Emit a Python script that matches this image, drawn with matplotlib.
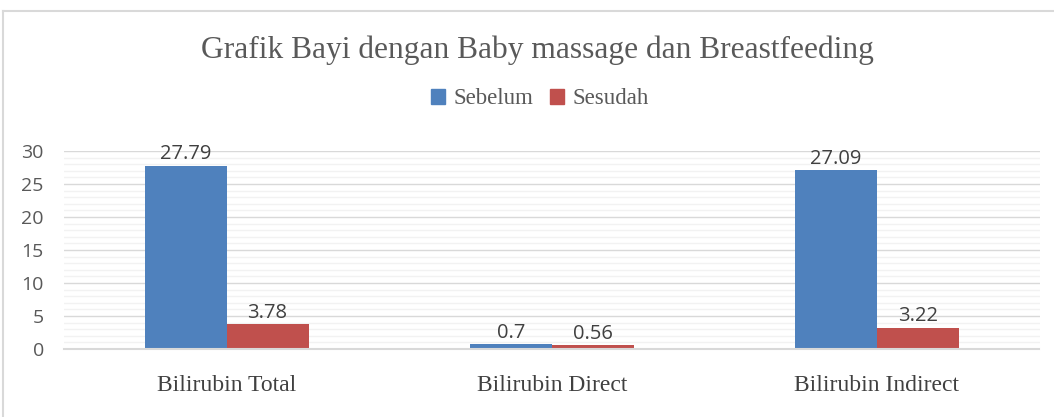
import matplotlib
matplotlib.use("Agg")
import matplotlib.pyplot as plt
import numpy as np
from matplotlib.lines import Line2D
from matplotlib.patches import Patch

categories = ["Bilirubin Total", "Bilirubin Direct", "Bilirubin Indirect"]
series_names = ["Sebelum", "Sesudah"]
sebelum = [27.79, 0.7, 27.09]
sesudah = [3.78, 0.56, 3.22]
labels_sebelum = ["27.79", "0.7", "27.09"]
labels_sesudah = ["3.78", "0.56", "3.22"]
yticks = [0, 5, 10, 15, 20, 25, 30]

blue = "#4F81BD"
red = "#C0504D"
serif = ["Liberation Serif", "DejaVu Serif"]
sans = ["Open Sans", "DejaVu Sans"]

fig = plt.figure(figsize=(10.54, 4.17), dpi=100)
ax = fig.add_axes([64/1054, 1-349/417, (1039.5-64)/1054, 198/417])

x = np.arange(len(categories))
w = 0.252
b1 = ax.bar(x - w/2, sebelum, w, color=blue, zorder=3)
b2 = ax.bar(x + w/2, sesudah, w, color=red, zorder=3)

for bars, labs in ((b1, labels_sebelum), (b2, labels_sesudah)):
    for rect, lab in zip(bars, labs):
        ax.annotate(lab, (rect.get_x() + rect.get_width()/2, rect.get_height()),
                    xytext=(0, 1), textcoords="offset points",
                    ha="center", va="bottom", fontsize=14.5, color="#404040", family=sans)

ax.set_xlim(-0.5, 2.5)
ax.set_ylim(0, 30)
ax.set_yticks(yticks)
ax.set_yticklabels([str(t) for t in yticks], family=sans, fontsize=14, color="#595959")
ax.set_yticks(np.arange(0, 31, 1), minor=True)
ax.set_xticks(x)
ax.set_xticklabels(categories, family=serif, fontsize=17, color="#404040")
ax.tick_params(axis="both", length=0, which="both")
ax.tick_params(axis="y", pad=14.5)
ax.tick_params(axis="x", pad=19)
ax.grid(axis="y", which="minor", color="#F2F2F2", lw=1, zorder=0)
ax.grid(axis="y", which="major", color="#D9D9D9", lw=1, zorder=1)
for s in ["top", "right", "left"]:
    ax.spines[s].set_visible(False)
ax.spines["bottom"].set_color("#D9D9D9")
ax.spines["bottom"].set_linewidth(1.5)
ax.spines["bottom"].set_zorder(4)

fig.text(537/1054, 1-50/417, "Grafik Bayi dengan Baby massage dan Breastfeeding",
         ha="center", va="center", fontsize=22.7, color="#595959", family=serif)

handles = [Patch(color=blue), Patch(color=red)]
fig.legend(handles, series_names, loc="center", bbox_to_anchor=(540/1054, 1-99/417),
           ncol=2, frameon=False, prop={"family": serif, "size": 16.5},
           handlelength=0.6, handleheight=0.6, handletextpad=0.4, columnspacing=0.7,
           labelcolor="#595959")

# chart frame
fig.add_artist(Line2D([3/1054, 3/1054], [0, 1-11/417], color="#D9D9D9", lw=1.5))
fig.add_artist(Line2D([3/1054, 1], [1-11/417, 1-11/417], color="#D9D9D9", lw=1.5))

fig.savefig("out.png", dpi=100)
